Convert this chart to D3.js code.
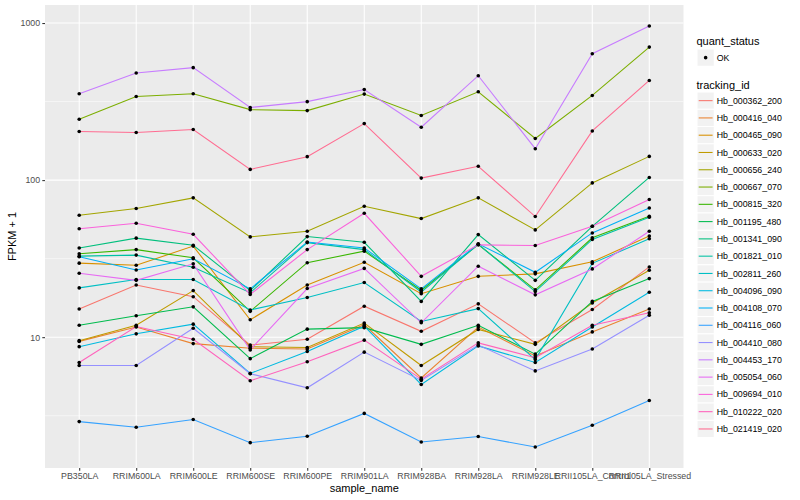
<!DOCTYPE html>
<html>
<head>
<meta charset="utf-8">
<script src="https://cdn.jsdelivr.net/npm/d3@7"></script>
<style>
  body { margin: 0; background: #fff; }
  text { font-family: "Liberation Sans", Arial, Helvetica, sans-serif; }
</style>
</head>
<body>
<script>
var samples = ['PB350LA', 'RRIM600LA', 'RRIM600LE', 'RRIM600SE', 'RRIM600PE', 'RRIM901LA',
  'RRIM928BA', 'RRIM928LA', 'RRIM928LE', 'RRII105LA_Control', 'RRII105LA_Stressed'];

var trackingIds = ['Hb_000362_200', 'Hb_000416_040', 'Hb_000465_090', 'Hb_000633_020', 'Hb_000656_240',
  'Hb_000667_070', 'Hb_000815_320', 'Hb_001195_480', 'Hb_001341_090', 'Hb_001821_010',
  'Hb_002811_260', 'Hb_004096_090', 'Hb_004108_070', 'Hb_004116_060', 'Hb_004410_080',
  'Hb_004453_170', 'Hb_005054_060', 'Hb_009694_010', 'Hb_010222_020', 'Hb_021419_020'];

var colors = ['#F8766D', '#EA8331', '#D89000', '#C09B00', '#A3A500', '#7CAE00', '#39B600', '#00BB4E',
  '#00BF7D', '#00C1A3', '#00BFC4', '#00BAE0', '#00B0F6', '#35A2FF', '#9590FF', '#C77CFF',
  '#E76BF3', '#FA62DB', '#FF62BC', '#FF6C91'];

// FPKM + 1, one value per sample
var hb_000362_200 = [15.1, 21.5, 18.1, 8.9, 9.7, 15.75, 10.9, 16.3, 9.2, 15.0, 28.0];
var hb_000416_040 = [9.4, 11.6, 9.1, 8.5, 8.4, 12.0, 5.5, 11.6, 7.6, 10.8, 15.1];
var hb_000465_090 = [29.6, 28.7, 38.0, 12.9, 21.5, 30.0, 18.9, 24.4, 25.3, 30.2, 44.0];
var hb_000633_020 = [9.5, 11.9, 19.8, 8.7, 8.6, 12.3, 6.6, 11.2, 9.0, 16.5, 26.7];
var hb_000656_240 = [59.7, 65.9, 77.1, 43.5, 47.2, 68.1, 56.9, 77.1, 48.2, 96, 141.6];
var hb_000667_070 = [244, 341, 355, 281, 277, 353, 258, 365, 184, 346, 703];
var hb_000815_320 = [34.0, 36.1, 32.0, 14.6, 29.8, 35.3, 19.9, 38.9, 20.0, 42.9, 58.9];
var hb_001195_480 = [11.9, 13.7, 15.6, 7.3, 11.25, 11.5, 9.0, 11.9, 7.8, 16.9, 23.6];
var hb_001341_090 = [37.0, 42.7, 38.5, 19.8, 43.7, 40.2, 16.9, 45.0, 23.0, 50.8, 104];
var hb_001821_010 = [32.8, 33.3, 27.9, 19.2, 40.0, 36.1, 19.4, 39.0, 19.5, 41.9, 58.0];
var hb_002811_260 = [20.6, 23.3, 23.3, 14.9, 17.9, 22.3, 12.6, 15.2, 7.2, 29.5, 42.3];
var hb_004096_090 = [8.7, 10.5, 12.1, 5.88, 8.1, 11.75, 5.0, 8.8, 6.9, 11.6, 19.3];
var hb_004108_070 = [32.5, 26.8, 31.6, 20.3, 40.4, 37.0, 20.3, 39.3, 25.9, 46.1, 66.5];
var hb_004116_060 = [2.9, 2.67, 2.99, 2.13, 2.34, 3.27, 2.15, 2.33, 2.0, 2.75, 3.95];
var hb_004410_080 = [6.6, 6.6, 11.4, 5.85, 4.76, 8.03, 5.3, 8.9, 6.1, 8.4, 13.8];
var hb_004453_170 = [355, 481, 520, 290, 316, 377, 217, 462, 158.5, 638, 957];
var hb_005054_060 = [25.5, 23.0, 29.3, 8.3, 20.4, 27.4, 12.35, 28.3, 18.6, 27.2, 47.2];
var hb_009694_010 = [49.0, 53.1, 45.2, 18.7, 36.1, 61.5, 24.4, 38.7, 38.3, 50.8, 75.2];
var hb_010222_020 = [6.9, 11.7, 9.7, 5.28, 6.97, 9.57, 5.4, 9.2, 7.4, 11.9, 14.3];
var hb_021419_020 = [204, 201, 210, 117, 141, 229, 103, 122.5, 58.6, 205.6, 431];

var series = [hb_000362_200, hb_000416_040, hb_000465_090, hb_000633_020, hb_000656_240,
  hb_000667_070, hb_000815_320, hb_001195_480, hb_001341_090, hb_001821_010,
  hb_002811_260, hb_004096_090, hb_004108_070, hb_004116_060, hb_004410_080,
  hb_004453_170, hb_005054_060, hb_009694_010, hb_010222_020, hb_021419_020];

var yTicks = [10, 100, 1000];
var yMinor = [Math.pow(10, 0.5), Math.pow(10, 1.5), Math.pow(10, 2.5)];

/* ===== frame ===== */

var w = 800;
var h = 500;
var panel = { left: 45, right: 683.5, top: 5, bottom: 468 };

var svg = d3.select('body')
  .append('svg')
  .attr('width', w)
  .attr('height', h);

/* ===== scales ===== */

var all = d3.merge(series);
var lo = Math.log10(d3.min(all));
var hi = Math.log10(d3.max(all));
var ex = (hi - lo) * 0.05;

var yScale = d3.scaleLog()
  .domain([Math.pow(10, lo - ex), Math.pow(10, hi + ex)])
  .range([panel.bottom, panel.top]);

var xScale = d3.scalePoint()
  .domain(samples)
  .range([panel.left, panel.right])
  .padding(0.6);

/* ===== panel + grid ===== */

svg.append('rect')
  .attr('x', panel.left)
  .attr('y', panel.top)
  .attr('width', panel.right - panel.left)
  .attr('height', panel.bottom - panel.top)
  .attr('fill', '#EBEBEB');

svg.selectAll('.minor').data(yMinor).enter()
  .append('line')
  .attr('x1', panel.left).attr('x2', panel.right)
  .attr('y1', function(d) { return yScale(d); })
  .attr('y2', function(d) { return yScale(d); })
  .attr('stroke', '#fff').attr('stroke-width', 0.53);

svg.selectAll('.major').data(yTicks).enter()
  .append('line')
  .attr('x1', panel.left).attr('x2', panel.right)
  .attr('y1', function(d) { return yScale(d); })
  .attr('y2', function(d) { return yScale(d); })
  .attr('stroke', '#fff').attr('stroke-width', 1.07);

svg.selectAll('.vgrid').data(samples).enter()
  .append('line')
  .attr('x1', function(d) { return xScale(d); })
  .attr('x2', function(d) { return xScale(d); })
  .attr('y1', panel.top).attr('y2', panel.bottom)
  .attr('stroke', '#fff').attr('stroke-width', 1.07);

/* ===== lines + points ===== */

var line = d3.line()
  .x(function(d, i) { return xScale(samples[i]); })
  .y(function(d) { return yScale(d); });

svg.selectAll('.series').data(series).enter()
  .append('path')
  .attr('d', line)
  .attr('fill', 'none')
  .attr('stroke', function(d, i) { return colors[i]; })
  .attr('stroke-width', 1.07);

series.forEach(function(s) {
  svg.selectAll(null).data(s).enter()
    .append('circle')
    .attr('cx', function(d, i) { return xScale(samples[i]); })
    .attr('cy', function(d) { return yScale(d); })
    .attr('r', 1.8)
    .attr('fill', '#000');
});

/* ===== axes ===== */

var yAxis = d3.axisLeft(yScale)
  .tickValues(yTicks)
  .tickFormat(d3.format('d'))
  .tickSize(2.7)
  .tickPadding(2.2);

var gy = svg.append('g')
  .attr('transform', 'translate(' + panel.left + ',0)')
  .call(yAxis);

var xAxis = d3.axisBottom(xScale)
  .tickSize(2.7)
  .tickPadding(2.2);

var gx = svg.append('g')
  .attr('transform', 'translate(0,' + panel.bottom + ')')
  .call(xAxis);

[gx, gy].forEach(function(g) {
  g.select('.domain').remove();
  g.selectAll('.tick line').attr('stroke', '#333333').attr('stroke-width', 1.07);
  g.selectAll('.tick text').attr('fill', '#4D4D4D').style('font-size', '8.8px')
    .style('font-family', '"Liberation Sans", Arial, sans-serif');
});

svg.append('text')
  .attr('x', (panel.left + panel.right) / 2)
  .attr('y', 492)
  .attr('text-anchor', 'middle')
  .style('font-size', '11px')
  .text('sample_name');

svg.append('text')
  .attr('transform', 'translate(15.5,' + (panel.top + panel.bottom) / 2 + ') rotate(-90)')
  .attr('text-anchor', 'middle')
  .style('font-size', '11px')
  .text('FPKM + 1');

/* ===== legends ===== */

var lx = 697;
var key = 17.28;

svg.append('text')
  .attr('x', lx - 0.5).attr('y', 44.5)
  .style('font-size', '11px')
  .text('quant_status');

svg.append('rect')
  .attr('x', lx).attr('y', 49)
  .attr('width', key).attr('height', key)
  .attr('fill', '#F2F2F2').attr('stroke', '#fff');

svg.append('circle')
  .attr('cx', lx + key / 2).attr('cy', 49 + key / 2)
  .attr('r', 1.8).attr('fill', '#000');

svg.append('text')
  .attr('x', lx + key + 2.5).attr('y', 49 + key / 2)
  .attr('dy', '0.35em')
  .style('font-size', '8.8px')
  .text('OK');

svg.append('text')
  .attr('x', lx - 0.5).attr('y', 89)
  .style('font-size', '11px')
  .text('tracking_id');

var items = svg.selectAll('.leg').data(trackingIds).enter()
  .append('g')
  .attr('transform', function(d, i) { return 'translate(' + lx + ',' + (92 + i * key) + ')'; });

items.append('rect')
  .attr('width', key).attr('height', key)
  .attr('fill', '#F2F2F2').attr('stroke', '#fff');

items.append('line')
  .attr('x1', 1.7).attr('x2', key - 1.7)
  .attr('y1', key / 2).attr('y2', key / 2)
  .attr('stroke', function(d, i) { return colors[i]; })
  .attr('stroke-width', 1.07);

items.append('text')
  .attr('x', key + 2.5).attr('y', key / 2)
  .attr('dy', '0.35em')
  .style('font-size', '8.8px')
  .text(function(d) { return d; });
</script>
</body>
</html>
